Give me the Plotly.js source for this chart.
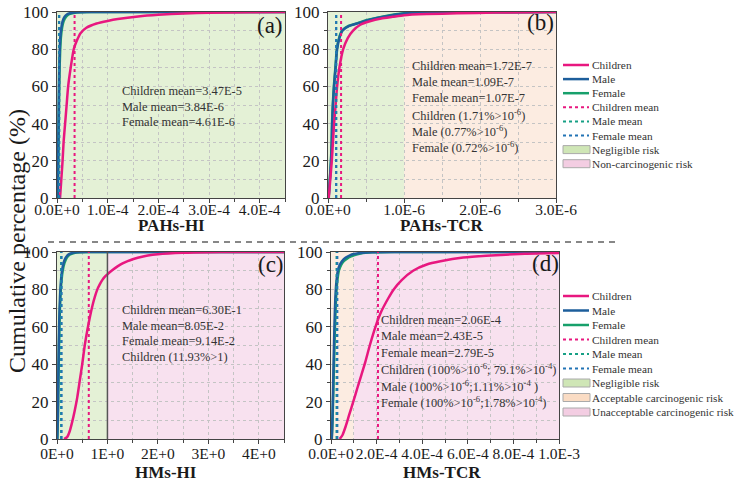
<!DOCTYPE html>
<html><head><meta charset="utf-8">
<script src="https://cdn.plot.ly/plotly-3.0.1.min.js"></script>
<style>html,body{margin:0;padding:0;background:#fff}#chart{width:738px;height:487px}</style>
</head><body><div id="chart"></div>
<script>
// ---------------- DATA ----------------
// (a) PAHs-HI cumulative distributions
const aChildX = [6e-6,8.5e-6,1.1e-5,1.3e-5,1.6e-5,1.9e-5,2.2e-5,2.7e-5,3.3e-5,3.9e-5,4.6e-5,5.8e-5,7.8e-5,1.0e-4,1.2e-4,1.6e-4,2.0e-4,2.5e-4,3.0e-4,3.8e-4,4.5e-4];
const aChildY = [0,10,20,30,40,50,60,70,80,84.5,88.5,91.5,93.8,95.2,96.2,97.6,98.5,99.2,99.6,99.9,100];
const aMaleX = [1e-6,1.8e-6,2.4e-6,3e-6,3.6e-6,4.3e-6,5.2e-6,6.5e-6,8.5e-6,1.1e-5,1.5e-5,2.0e-5,2.8e-5,4.0e-5,6e-5,4.5e-4];
const aMaleY = [0,10,25,40,55,68,78,86,91.5,95,97.5,98.8,99.5,99.9,100,100];
const aFemaleX = [1.2e-6,2.1e-6,2.8e-6,3.5e-6,4.2e-6,5.0e-6,6.1e-6,7.6e-6,1.0e-5,1.3e-5,1.8e-5,2.4e-5,3.3e-5,4.6e-5,7e-5,4.5e-4];
const aFemaleY = [0,10,25,40,55,68,78,86,91.5,95,97.5,98.8,99.5,99.9,100,100];
// (b) PAHs-TCR
const bChildX = [1e-8,3e-8,5e-8,6.5e-8,8e-8,1.0e-7,1.2e-7,1.5e-7,2.0e-7,2.6e-7,3.3e-7,4.2e-7,5.5e-7,7e-7,8.5e-7,1.0e-6,1.3e-6,1.7e-6,2.2e-6,3e-6];
const bChildY = [0,10,20,30,40,50,60,70,80,86,90,93,95,96.5,97.4,98.29,98.9,99.3,99.7,100];
const bMaleX = [8e-9,2.5e-8,4e-8,5e-8,5.5e-8,6.5e-8,8e-8,1e-7,1.2e-7,1.5e-7,1.9e-7,2.8e-7,4e-7,5.5e-7,7.5e-7,1.0e-6,1.5e-6,2.2e-6,3e-6];
const bMaleY = [0,10,20,30,40,50,60,70,80,86,90,92.5,94,95.8,97.6,99.23,99.7,99.9,100];
const bFemaleX = [8e-9,2.4e-8,3.9e-8,4.8e-8,5.3e-8,6.3e-8,7.7e-8,9.7e-8,1.16e-7,1.45e-7,1.85e-7,2.7e-7,3.9e-7,5.3e-7,7.3e-7,1.0e-6,1.45e-6,2.1e-6,3e-6];
const bFemaleY = [0,10,20,30,40,50,60,70,80,86,90,92.5,94,95.8,97.6,99.28,99.7,99.9,100];
// (c) HMs-HI
const cChildX = [0.14,0.2,0.25,0.3,0.35,0.4,0.45,0.5,0.55,0.6,0.65,0.7,0.75,0.8,0.85,0.9,0.95,1.0,1.05,1.1,1.2,1.3,1.4,1.5,1.6,1.8,2.0,2.5,3.0,3.5,4.5];
const cChildY = [0,1,4,9,15,22,31,40,50,58,65,71,76,80,82.8,85.1,86.8,88.07,89.3,90.4,92.3,93.9,95.1,96.1,96.9,98.1,98.8,99.6,99.9,100,100];
const cMaleX = [0.005,0.015,0.025,0.035,0.045,0.06,0.08,0.1,0.13,0.17,0.22,0.3,0.4,0.6,4.5];
const cMaleY = [0,10,30,50,64,76,85,90,94,96.8,98.5,99.5,99.9,100,100];
const cFemaleX = [0.006,0.017,0.028,0.04,0.051,0.068,0.09,0.113,0.147,0.19,0.25,0.34,0.45,0.68,4.5];
const cFemaleY = [0,10,30,50,64,76,85,90,94,96.8,98.5,99.5,99.9,100,100];
// (d) HMs-TCR
const dChildX = [3.8e-5,5e-5,6.5e-5,8e-5,1.0e-4,1.15e-4,1.3e-4,1.5e-4,1.7e-4,1.95e-4,2.2e-4,2.5e-4,2.75e-4,3.1e-4,3.6e-4,4.2e-4,4.8e-4,5.8e-4,6.8e-4,8.5e-4,1.0e-3];
const dChildY = [0,2,7,13,20.9,27,33,41,50,60,68,75,80,85,90,93.3,95,97,98,99,99.4];
const dMaleX = [3e-6,5e-6,7e-6,9e-6,1.1e-5,1.35e-5,1.6e-5,1.9e-5,2.3e-5,3e-5,3.8e-5,4.8e-5,6.5e-5,8.3e-5,1.0e-4,1.3e-4,1.8e-4,2.8e-4,1.0e-3];
const dMaleY = [0,6,15,26,38,52,64,75,83,90,93,95,97,98.2,98.89,99.5,99.9,100,100];
const dFemaleX = [3.5e-6,5.8e-6,8e-6,1.03e-5,1.27e-5,1.55e-5,1.85e-5,2.2e-5,2.65e-5,3.45e-5,4.4e-5,5.5e-5,7.2e-5,8.8e-5,1.0e-4,1.3e-4,1.8e-4,2.8e-4,1.0e-3];
const dFemaleY = [0,6,15,26,38,52,64,75,83,90,93,95,96.6,97.6,98.22,99.2,99.8,100,100];

// means per panel (a, b, c, d)
const childMean  = [3.47e-5, 1.72e-7, 6.30e-1, 2.06e-4];
const maleMean   = [3.84e-6, 1.09e-7, 8.05e-2, 2.43e-5];
const femaleMean = [4.61e-6, 1.07e-7, 9.14e-2, 2.79e-5];

// risk zones per panel: [start, end]
const aNegligible = [0, 4.5e-4];
const bNegligible = [0, 1e-6];
const bAcceptable = [1e-6, 3e-6];
const cNegligible = [0, 1];
const cNonCarc    = [1, 4.5];
const dNegligible = [0, 1e-6];
const dAcceptable = [1e-6, 1e-4];
const dUnaccept   = [1e-4, 1e-3];

// ticks
const aTicks = [0,1e-4,2e-4,3e-4,4e-4];
const aTickText = ["0.0E+0","1.0E-4","2.0E-4","3.0E-4","4.0E-4"];
const bTicks = [0,1e-6,2e-6,3e-6];
const bTickText = ["0.0E+0","1.0E-6","2.0E-6","3.0E-6"];
const cTicks = [0,1,2,3,4];
const cTickText = ["0E+0","1E+0","2E+0","3E+0","4E+0"];
const dTicks = [0,2e-4,4e-4,6e-4,8e-4,1e-3];
const dTickText = ["0.0E+0","2.0E-4","4.0E-4","6.0E-4","8.0E-4","1.0E-3"];
const yTicks = [0,20,40,60,80,100];

const xTitles = ["PAHs-HI","PAHs-TCR","HMs-HI","HMs-TCR"];
const panelLabels = ["(a)","(b)","(c)","(d)"];
const aText = ["Children mean=3.47E-5","Male mean=3.84E-6","Female mean=4.61E-6"];
const bText = ["Children mean=1.72E-7","Male mean=1.09E-7","Female mean=1.07E-7",
  "Children (1.71%>10<sup>-6</sup>)","Male (0.77%>10<sup>-6</sup>)","Female (0.72%>10<sup>-6</sup>)"];
const cText = ["Children mean=6.30E-1","Male mean=8.05E-2","Female mean=9.14E-2","Children (11.93%>1)"];
const dText = ["Children mean=2.06E-4","Male mean=2.43E-5","Female mean=2.79E-5",
  "Children (100%>10<sup>-6</sup>; 79.1%>10<sup>-4</sup>)","Male (100%>10<sup>-6</sup>;1.11%>10<sup>-4</sup> )","Female (100%>10<sup>-6</sup>;1.78%>10<sup>-4</sup>)"];
const legend1Names = ["Children","Male","Female","Children mean","Male mean","Female mean","Negligible risk","Non-carcinogenic risk"];
const legend2Names = ["Children","Male","Female","Children mean","Male mean","Female mean","Negligible risk","Acceptable carcinogenic risk","Unacceptable carcinogenic risk"];

// ---------------- STYLE ----------------
const W = 738, H = 487;
const px = x => x / W, py = y => 1 - y / H;
const C_CHILD = '#E8177F', C_MALE = '#1D5E9B', C_FEMALE = '#17A06B';
const C_MMEAN = '#16A085', C_FMEAN = '#2274B5';
const BG_NEG = '#E4F1D6', BG_ACC = '#FCECE1', BG_UNACC = '#F8E1EF';
const SW_NEG = '#CFE6B6', SW_ACC = '#FADCC4', SW_UNACC = '#F3CDE2';
const FONT = 'Liberation Serif';

const panels = [
  {cx:aChildX, cy:aChildY, mx:aMaleX, my:aMaleY, fx:aFemaleX, fy:aFemaleY},
  {cx:bChildX, cy:bChildY, mx:bMaleX, my:bMaleY, fx:bFemaleX, fy:bFemaleY},
  {cx:cChildX, cy:cChildY, mx:cMaleX, my:cMaleY, fx:cFemaleX, fy:cFemaleY},
  {cx:dChildX, cy:dChildY, mx:dMaleX, my:dMaleY, fx:dFemaleX, fy:dFemaleY}
];
const suf = ['', '2', '3', '4'];

const traces = [];
panels.forEach((p, i) => {
  const xa = 'x' + suf[i], ya = 'y' + suf[i];
  traces.push({x:p.fx, y:p.fy, xaxis:xa, yaxis:ya, mode:'lines', line:{color:C_FEMALE, width:2.5, shape:'spline', smoothing:0.6}, showlegend:false, hoverinfo:'skip'});
  traces.push({x:p.mx, y:p.my, xaxis:xa, yaxis:ya, mode:'lines', line:{color:C_MALE, width:2.5, shape:'spline', smoothing:0.6}, showlegend:false, hoverinfo:'skip'});
  traces.push({x:p.cx, y:p.cy, xaxis:xa, yaxis:ya, mode:'lines', line:{color:C_CHILD, width:2.5, shape:'spline', smoothing:0.6}, showlegend:false, hoverinfo:'skip'});
  traces.push({x:[maleMean[i], maleMean[i]], y:[0,100], xaxis:xa, yaxis:ya, mode:'lines', line:{color:C_MMEAN, width:2, dash:'dot'}, showlegend:false, hoverinfo:'skip'});
  traces.push({x:[femaleMean[i], femaleMean[i]], y:[0,100], xaxis:xa, yaxis:ya, mode:'lines', line:{color:C_FMEAN, width:2, dash:'dot'}, showlegend:false, hoverinfo:'skip'});
  traces.push({x:[childMean[i], childMean[i]], y:[0,100], xaxis:xa, yaxis:ya, mode:'lines', line:{color:C_CHILD, width:2, dash:'dot'}, showlegend:false, hoverinfo:'skip'});
});

function mids(t) { const m = []; for (let k = 0; k < t.length - 1; k++) m.push((t[k] + t[k+1]) / 2); return m; }
function ext(t, end) { const m = mids(t); const step = t[1]-t[0]; if (t[t.length-1] + step/2 <= end + 1e-12) m.push(t[t.length-1] + step/2); return m; }

const gridStyle = {showgrid:true, gridcolor:'#c4c4c4', griddash:'dot', gridwidth:1};
function xAxis(dom, range, tv, tt, anchor, standoff) {
  return Object.assign({domain:[px(dom[0]), px(dom[1])], range:range, anchor:anchor, tickmode:'array', tickvals:tv, ticktext:tt,
    ticks:'outside', ticklen:4, tickwidth:1, tickcolor:'#444', showline:true, linecolor:'#444', linewidth:1.2, mirror:true,
    zeroline:false, fixedrange:true, tickangle:0, ticklabelstandoff:standoff, tickfont:{family:FONT, size:15.5, color:'#1a1a1a'},
    minor:Object.assign({tickvals:ext(tv, range[1]), ticks:'outside', ticklen:2.5, tickcolor:'#444'}, gridStyle)}, gridStyle);
}
function yAxis(dom, anchor) {
  return Object.assign({domain:[py(dom[1]), py(dom[0])], range:[0,100], anchor:anchor, tickmode:'array', tickvals:yTicks,
    ticktext:yTicks.map(String), ticks:'outside', ticklen:4, tickwidth:1, tickcolor:'#444', showline:true, linecolor:'#444',
    linewidth:1.2, mirror:true, zeroline:false, fixedrange:true, tickfont:{family:FONT, size:17, color:'#1a1a1a'},
    minor:Object.assign({tickvals:mids(yTicks), ticks:'outside', ticklen:2.5, tickcolor:'#444'}, gridStyle)}, gridStyle);
}

const layout = {
  width:W, height:H, margin:{l:0, r:0, t:0, b:0}, paper_bgcolor:'#fff', plot_bgcolor:'rgba(0,0,0,0)', showlegend:false,
  font:{family:FONT},
  xaxis: xAxis([57,285], [0,4.5e-4], aTicks, aTickText, 'y', -7),
  yaxis: yAxis([12,198], 'x'),
  xaxis2: xAxis([328,556], [0,3e-6], bTicks, bTickText, 'y2', -7),
  yaxis2: yAxis([12,198], 'x2'),
  xaxis3: xAxis([57,284], [0,4.5], cTicks, cTickText, 'y3', -4),
  yaxis3: yAxis([252,439], 'x3'),
  xaxis4: xAxis([331,559], [0,1e-3], dTicks, dTickText, 'y4', -4),
  yaxis4: yAxis([252,439], 'x4'),
  shapes: [], annotations: []
};

function zone(i, r, color) {
  layout.shapes.push({type:'rect', xref:'x'+suf[i], yref:'y'+suf[i]+' domain', x0:r[0], x1:r[1], y0:0, y1:1, fillcolor:color, line:{width:0}, layer:'below'});
}
zone(0, aNegligible, BG_NEG);
zone(1, bNegligible, BG_NEG); zone(1, bAcceptable, BG_ACC);
zone(2, cNegligible, BG_NEG); zone(2, cNonCarc, BG_UNACC);
zone(3, dNegligible, BG_NEG); zone(3, dAcceptable, BG_ACC); zone(3, dUnaccept, BG_UNACC);
// boundary line at HI = 1 in (c)
layout.shapes.push({type:'line', xref:'x3', yref:'y3 domain', x0:cNegligible[1], x1:cNegligible[1], y0:0, y1:1, line:{color:'#555', width:1.5}, layer:'above'});
// dashed separator
layout.shapes.push({type:'line', xref:'paper', yref:'paper', x0:px(48), x1:px(620), y0:py(242), y1:py(242), line:{color:'#111', width:1.2, dash:'6px,5px'}});

// y title
layout.annotations.push({xref:'paper', yref:'paper', x:px(17), y:py(241), text:'Cumulative percentage (%)', textangle:-90, showarrow:false,
  font:{family:FONT, size:24, color:'#1a1a1a'}, xanchor:'center', yanchor:'middle'});
// x titles
const xTitlePos = [[171,225],[442,225],[166,472],[442,472]];
xTitles.forEach((t, i) => layout.annotations.push({xref:'paper', yref:'paper', x:px(xTitlePos[i][0]), y:py(xTitlePos[i][1]), text:'<b>'+t+'</b>',
  showarrow:false, font:{family:FONT, size:17, color:'#1a1a1a'}, xanchor:'center', yanchor:'middle'}));
// panel labels
const labPos = [[270,25],[540,22],[271,264],[545,263]];
panelLabels.forEach((t, i) => layout.annotations.push({xref:'paper', yref:'paper', x:px(labPos[i][0]), y:py(labPos[i][1]), text:t,
  showarrow:false, font:{family:FONT, size:23, color:'#1a1a1a'}, xanchor:'center', yanchor:'middle'}));
// text blocks
function block(lines, x0, y0, dy) {
  lines.forEach((t, k) => layout.annotations.push({xref:'paper', yref:'paper', x:px(x0), y:py(y0 + k*dy), text:t, showarrow:false,
    font:{family:FONT, size:12.4, color:'#333'}, xanchor:'left', yanchor:'middle'}));
}
block(aText, 120, 91, 15.5);
block(bText, 410, 66, 16.2);
block(cText, 120, 310, 15.7);
block(dText, 379, 320, 16.4);

// manual legends
function legend(names, y0, dy, boxes) {
  const lineStyles = [
    {color:C_CHILD, width:2.5}, {color:C_MALE, width:2.5}, {color:C_FEMALE, width:2.5},
    {color:C_CHILD, width:2, dash:'dot'}, {color:C_MMEAN, width:2, dash:'dot'}, {color:C_FMEAN, width:2, dash:'dot'}
  ];
  names.forEach((n, k) => {
    const y = y0 + k*dy;
    if (k < 6) {
      layout.shapes.push({type:'line', xref:'paper', yref:'paper', x0:px(563), x1:px(589), y0:py(y), y1:py(y), line:lineStyles[k]});
    } else {
      layout.shapes.push({type:'rect', xref:'paper', yref:'paper', x0:px(563), x1:px(590), y0:py(y-4), y1:py(y+4), fillcolor:boxes[k-6], line:{color:'#aaa', width:1}});
    }
    layout.annotations.push({xref:'paper', yref:'paper', x:px(590), y:py(y), text:n, showarrow:false,
      font:{family:FONT, size:11.3, color:'#333'}, xanchor:'left', yanchor:'middle'});
  });
}
legend(legend1Names, 65, 14.1, [SW_NEG, SW_UNACC]);
legend(legend2Names, 296, 14.5, [SW_NEG, SW_ACC, SW_UNACC]);

Plotly.newPlot('chart', traces, layout, {staticPlot:true, displayModeBar:false});
</script>
</body></html>
